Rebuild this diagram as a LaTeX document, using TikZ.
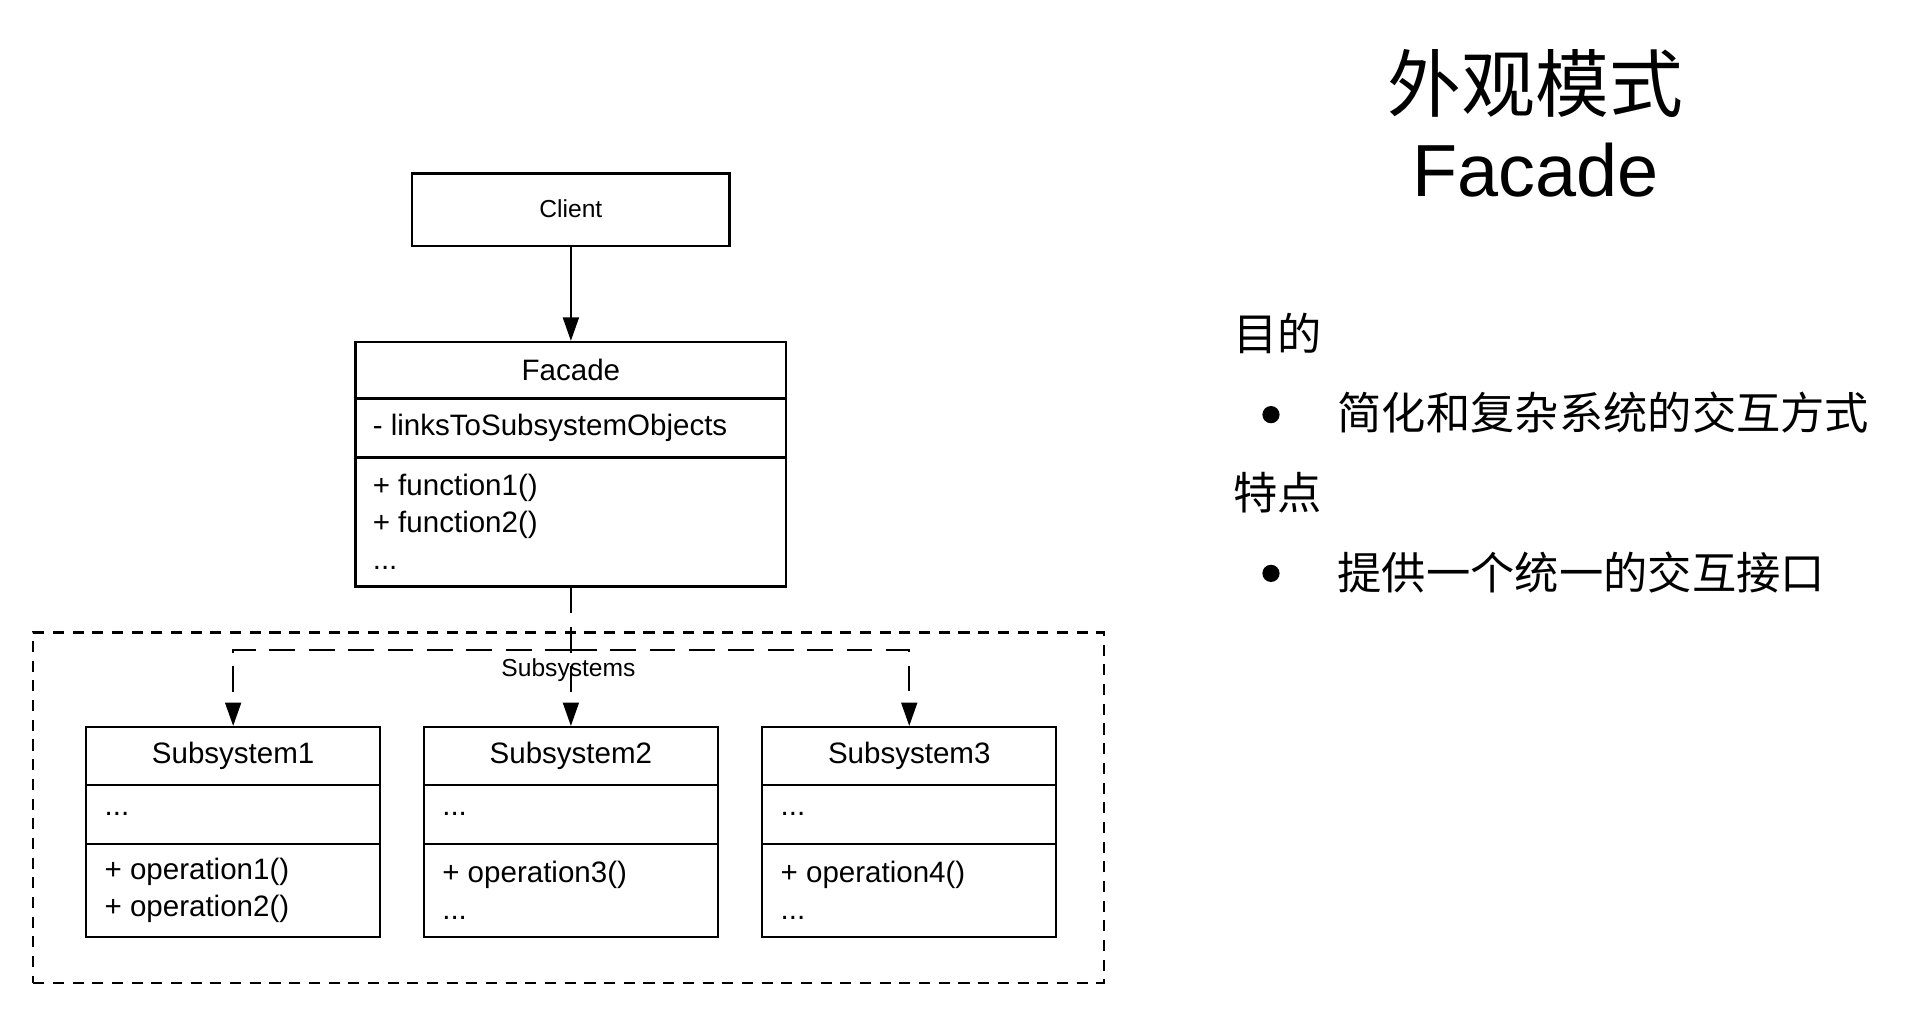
\documentclass[tikz,border=0pt]{standalone}
\usepackage{fontspec}
\setmainfont{Liberation Sans}
\newfontfamily\cjk{Noto Sans CJK SC}
\usetikzlibrary{shapes.multipart,arrows.meta}

\newcommand{\cpart}[3]{\parbox[c][#1][c]{#2}{#3}}

\begin{document}
\begin{tikzpicture}[x=1pt, y=-1pt]
    % Define styles
    \tikzstyle{umlclass} = [rectangle split, rectangle split parts=3, draw, line width=1.9pt, inner sep=0pt, anchor=north, font=\fontsize{24}{30}\selectfont]
    \tikzstyle{plainbox} = [rectangle, draw, line width=1.9pt, inner sep=0pt, minimum width=258pt, minimum height=59pt, font=\fontsize{20}{24}\selectfont]
    \tikzstyle{frame} = [rectangle, draw, line width=1.8pt, dash pattern=on 9pt off 7pt, minimum width=870pt, minimum height=285pt]
    \tikzstyle{arrow} = [line width=1.5pt, -{Triangle[length=19pt,width=13pt]}]
    \tikzstyle{link} = [arrow, dash pattern=on 21pt off 11pt]
    \tikzstyle{small} = [inner sep=0pt, font=\fontsize{20}{24}\selectfont]
    \tikzstyle{heading} = [inner sep=0pt, font=\cjk\fontsize{60}{72}\selectfont]
    \tikzstyle{body} = [inner sep=0pt, anchor=west, font=\cjk\fontsize{36}{43}\selectfont]
    \tikzstyle{dot} = [circle, fill, inner sep=0pt, minimum size=14pt]

    \useasboundingbox (0,0) rectangle (1567,828);

    % Nodes
    \node (client) [plainbox] at (464,170.5) {\raisebox{2pt}{Client}};
    \node (facade) [umlclass] at (464,277)
        {\cpart{44pt}{350pt}{\centering Facade}
        \nodepart{two}\cpart{46pt}{350pt}{\hspace*{14pt}- linksToSubsystemObjects}
        \nodepart{three}\cpart{103pt}{350pt}{\leftskip=14pt + function1()\\+ function2()\\...}};

    \node (pkg) [frame] at (462,656.5) {};
    \node (pkglabel) [small] at (462,545) {Subsystems};

    \node (sub1) [umlclass] at (189.5,590)
        {\cpart{45pt}{239pt}{\centering Subsystem1}
        \nodepart{two}\cpart{46pt}{239pt}{\hspace*{15pt}...}
        \nodepart{three}\cpart{74pt}{239pt}{\leftskip=15pt + operation1()\\+ operation2()}};
    \node (sub2) [umlclass] at (464,590)
        {\cpart{45pt}{239pt}{\centering Subsystem2}
        \nodepart{two}\cpart{46pt}{239pt}{\hspace*{15pt}...}
        \nodepart{three}\cpart{74pt}{239pt}{\leftskip=15pt + operation3()\\...}};
    \node (sub3) [umlclass] at (739,590)
        {\cpart{45pt}{239pt}{\centering Subsystem3}
        \nodepart{two}\cpart{46pt}{239pt}{\hspace*{15pt}...}
        \nodepart{three}\cpart{74pt}{239pt}{\leftskip=15pt + operation4()\\...}};
    \coordinate (fork) at (464,528);

    \node (title) [heading] at (1248,68) {外观模式};
    \node (titleen) [inner sep=0pt, font=\fontsize{60}{72}\selectfont] at (1248,138) {Facade};
    \node (goal) [body] at (1002,271) {目的};
    \node (bul1) [dot] at (1033,337) {};
    \node (goaltext) [body] at (1087,335) {简化和复杂系统的交互方式};
    \node (feat) [body] at (1002,400) {特点};
    \node (bul2) [dot] at (1033,466) {};
    \node (feattext) [body] at (1087,465) {提供一个统一的交互接口};

    % Arrows
    \draw [arrow] (client.south) -- (facade.north);
    \draw [link] (facade.south) -- (sub2.north);
    \draw [link] (fork) -| (sub1.north);
    \draw [link] (fork) -| (sub3.north);
\end{tikzpicture}
\end{document}
